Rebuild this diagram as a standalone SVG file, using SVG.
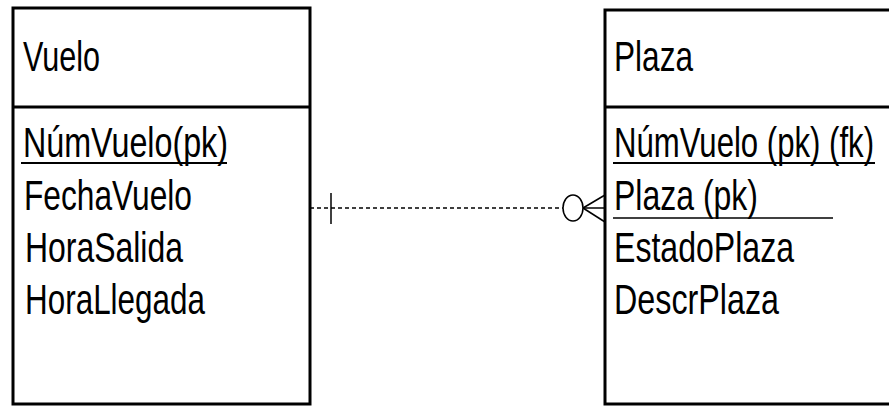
<svg xmlns="http://www.w3.org/2000/svg" width="889" height="408" viewBox="0 0 889 408">
<style>
.box{fill:#fff;stroke:#000;stroke-width:3}
.div{stroke:#000;stroke-width:3}
.t{font-family:"Liberation Sans",Arial,sans-serif;font-size:42px;fill:#000}
.ul{stroke:#000;stroke-width:2}
.conn{fill:none;stroke:#000;stroke-width:1.5}
</style>
<rect width="889" height="408" fill="#fff"/>
<g id="connectors">
<line class="conn" x1="310" y1="208" x2="563" y2="208" stroke-dasharray="4,3"/>
<line class="conn" x1="331" y1="193" x2="331" y2="224"/>
<ellipse class="conn" cx="573" cy="208" rx="10" ry="13"/>
<line class="conn" x1="583" y1="208" x2="605" y2="195"/>
<line class="conn" x1="583" y1="208" x2="605" y2="208"/>
<line class="conn" x1="583" y1="208" x2="605" y2="222"/>
</g>
<g id="vuelo">
<rect class="box" x="13" y="8" width="297" height="396"/>
<line class="div" x1="13" y1="107" x2="310" y2="107"/>
<text class="t" x="23" y="71" textLength="77" lengthAdjust="spacingAndGlyphs">Vuelo</text>
<text class="t" x="23" y="157" textLength="205" lengthAdjust="spacingAndGlyphs">NúmVuelo(pk)</text>
<line class="ul" x1="21" y1="163" x2="227" y2="163"/>
<text class="t" x="24" y="210" textLength="168" lengthAdjust="spacingAndGlyphs">FechaVuelo</text>
<text class="t" x="25" y="262" textLength="158" lengthAdjust="spacingAndGlyphs">HoraSalida</text>
<text class="t" x="25" y="314" textLength="180" lengthAdjust="spacingAndGlyphs">HoraLlegada</text>
</g>
<g id="plaza">
<rect class="box" x="605" y="10" width="300" height="394"/>
<line class="div" x1="605" y1="107" x2="889" y2="107"/>
<text class="t" x="614" y="71" textLength="79" lengthAdjust="spacingAndGlyphs">Plaza</text>
<text class="t" x="614" y="157" textLength="260" lengthAdjust="spacingAndGlyphs">NúmVuelo (pk) (fk)</text>
<line class="ul" x1="613" y1="163" x2="875" y2="163"/>
<text class="t" x="614" y="210" textLength="144" lengthAdjust="spacingAndGlyphs">Plaza (pk)</text>
<line class="ul" x1="613" y1="218" x2="833" y2="218" style="stroke-width:1.5"/>
<text class="t" x="614" y="262" textLength="180" lengthAdjust="spacingAndGlyphs">EstadoPlaza</text>
<text class="t" x="614" y="314" textLength="165" lengthAdjust="spacingAndGlyphs">DescrPlaza</text>
</g>
</svg>
